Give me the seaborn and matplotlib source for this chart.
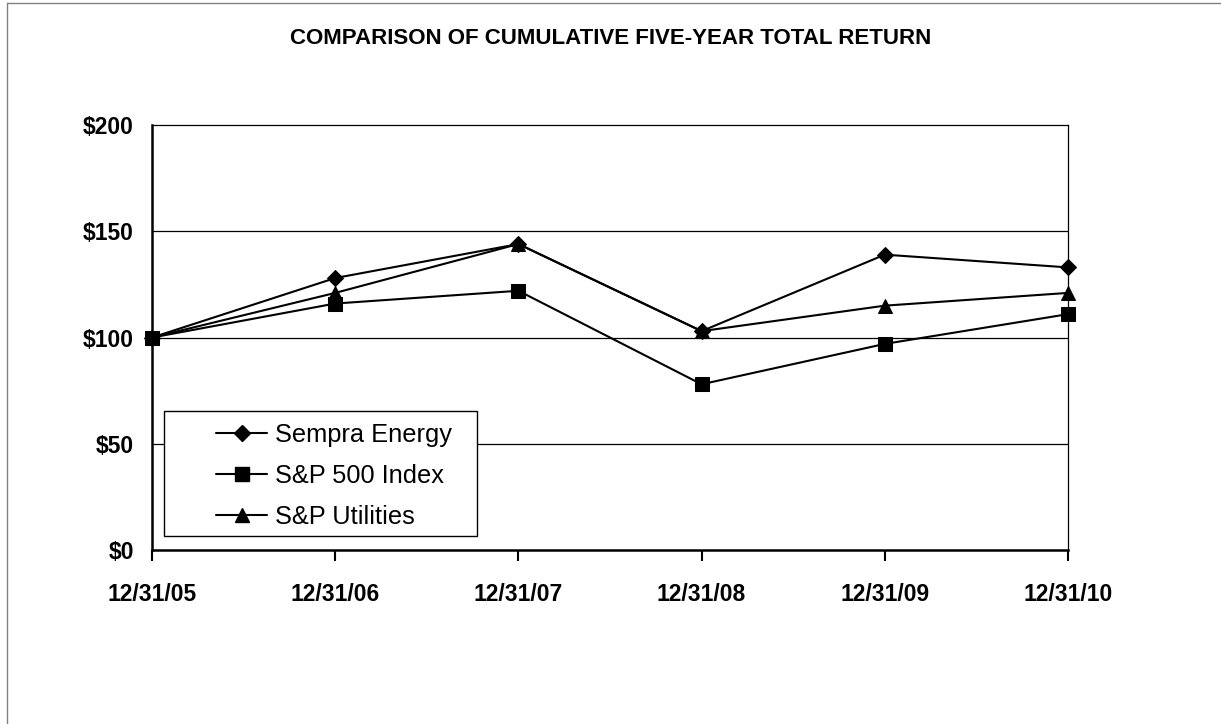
import pandas as pd
import seaborn as sns
import matplotlib.pyplot as plt
from matplotlib.lines import Line2D
from matplotlib.patches import Rectangle

dates = ["12/31/05", "12/31/06", "12/31/07", "12/31/08", "12/31/09", "12/31/10"]
sempra = [100, 128, 144, 103, 139, 133]
sp500 = [100, 116, 122, 78, 97, 111]
utilities = [100, 121, 144, 103, 115, 121]
series = ["Sempra Energy", "S&P 500 Index", "S&P Utilities"]
markers = ["D", "s", "^"]
msizes = [8, 9.5, 10.5]
y_ticks = [0, 50, 100, 150, 200]
y_labels = ["$0", "$50", "$100", "$150", "$200"]

data = pd.DataFrame({"date": dates * 3,
                     "value": sempra + sp500 + utilities,
                     "series": [s for s in series for _ in dates]})

sns.set_style("white")
plt.rcParams["font.family"] = ["Liberation Sans", "DejaVu Sans"]
plt.rcParams["text.color"] = "black"
plt.rcParams["xtick.color"] = "black"
plt.rcParams["ytick.color"] = "black"

fig = plt.figure(figsize=(12.21, 7.24), dpi=100)
ax = fig.add_axes([0.1245, 0.2403, 0.7502, 0.587])

sns.lineplot(data=data, x="date", y="value", hue="series", style="series",
             palette=["black"] * 3, markers=markers, dashes=False,
             linewidth=1.5, markeredgecolor="black", legend=False, ax=ax)
for line, ms in zip(ax.lines, msizes):
    line.set_markersize(ms)
    line.set_clip_on(False)

ax.set_xlim(0, 5)
ax.set_ylim(0, 200)
ax.set_yticks(y_ticks)
ax.set_yticklabels(y_labels, fontsize=16.5, fontweight="bold")
ax.set_xticks(range(len(dates)))
ax.set_xticklabels(dates, fontsize=16.5, fontweight="bold")
ax.tick_params(axis="x", direction="out", length=8, width=1.5, pad=16, bottom=True)
ax.tick_params(axis="y", length=0, pad=13)
ax.set_xlabel("")
ax.set_ylabel("")
for v in [50, 100, 150]:
    ax.axhline(v, color="black", linewidth=0.9, zorder=0)
for side in ["top", "right"]:
    ax.spines[side].set_linewidth(0.9)
    ax.spines[side].set_color("black")
for side in ["left", "bottom"]:
    ax.spines[side].set_linewidth(1.8)
    ax.spines[side].set_color("black")

# legend box drawn separately, entries indented like the original
ax.add_patch(Rectangle((0.013, 0.033), 0.342, 0.294, transform=ax.transAxes,
                       facecolor="white", edgecolor="black", linewidth=1.0,
                       zorder=4))
handles = [Line2D([], [], color="black", linewidth=1.5, marker=m, markersize=s,
                  markeredgecolor="black") for m, s in zip(markers, msizes)]
ax.legend(handles, series, loc="upper left", bbox_to_anchor=(0.070, 0.300),
          fontsize=18.3, frameon=False, handlelength=2.0, handletextpad=0.3,
          borderpad=0, labelspacing=0.68, borderaxespad=0)

fig.text(0.5, 0.9475, "COMPARISON OF CUMULATIVE FIVE-YEAR TOTAL RETURN",
         ha="center", va="center", fontsize=16, fontweight="bold")

fig.add_artist(Line2D([0.0057, 0.0057], [0, 0.996], color="gray", linewidth=1))
fig.add_artist(Line2D([0.0057, 1], [0.996, 0.996], color="gray", linewidth=1))

fig.savefig("out.png", dpi=100)
